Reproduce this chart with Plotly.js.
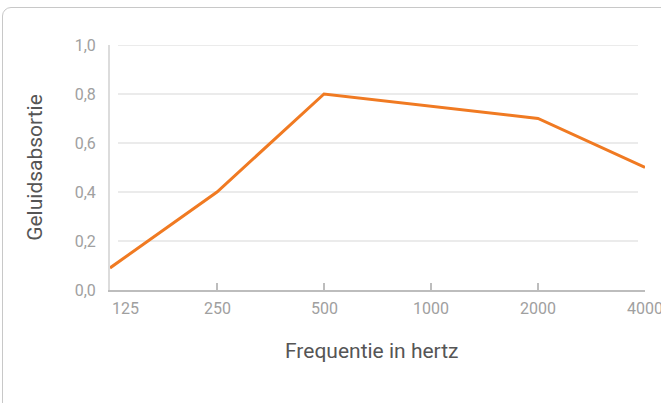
<!DOCTYPE html>
<html>
<head>
<meta charset="utf-8">
<script src="https://cdn.plot.ly/plotly-3.0.1.min.js"></script>
<style>
  html, body { margin: 0; padding: 0; background: #fff; overflow: hidden; }
  #card { position: absolute; left: 2px; top: 7px; width: 720px; height: 460px;
          border: 1px solid #c8c8c8; border-radius: 9px; box-sizing: border-box; }
  #chart { position: absolute; left: 0; top: 0; width: 661px; height: 403px; }
</style>
</head>
<body>
<div id="card"></div>
<div id="chart"></div>
<script>
const frequencies = ["125", "250", "500", "1000", "2000", "4000"];
const absorption = [0.09, 0.40, 0.80, 0.75, 0.70, 0.50];
const yTicks = [0, 0.2, 0.4, 0.6, 0.8, 1.0];
const xTitle = "Frequentie in hertz";
const yTitle = "Geluidsabsortie";

const trace = {
  x: frequencies,
  y: absorption,
  type: "scatter",
  mode: "lines",
  line: { color: "#f07a22", width: 3 },
  hoverinfo: "skip"
};

const gridShapes = yTicks.filter(v => v > 0).map(v => ({
  type: "line", xref: "paper", yref: "y",
  x0: 0.015, x1: 0.987, y0: v, y1: v,
  line: { color: "#ebebeb", width: 2 }, layer: "below"
}));

const xLabels = frequencies.map((f, i) => ({
  text: f, xref: "x", yref: "paper", x: i, y: 0, yshift: -18,
  xanchor: i === 0 ? "left" : "center", yanchor: "middle",
  showarrow: false, font: { family: "Roboto", size: 16, color: "#a0a0a0" }
}));

const layout = {
  width: 661, height: 403,
  margin: { l: 110, r: 16, t: 45, b: 113 },
  paper_bgcolor: "rgba(0,0,0,0)",
  plot_bgcolor: "rgba(0,0,0,0)",
  separators: ",.",
  showlegend: false,
  font: { family: "Roboto", color: "#a0a0a0" },
  xaxis: {
    type: "category",
    range: [0, frequencies.length - 1],
    showgrid: false, zeroline: false,
    showline: true, linecolor: "#bdbdbd", linewidth: 2,
    ticks: "inside", ticklen: 7, tickwidth: 2, tickcolor: "#bdbdbd",
    showticklabels: false,
    fixedrange: true
  },
  yaxis: {
    range: [0, 1],
    tickvals: yTicks,
    tickformat: ".1f",
    showgrid: false, zeroline: false,
    showline: true, linecolor: "#dcdcdc", linewidth: 2,
    ticks: "", ticklabelstandoff: 9,
    tickfont: { family: "Roboto", size: 16, color: "#a0a0a0" },
    title: { text: yTitle, standoff: 26, font: { family: "Roboto", size: 21, color: "#555" } },
    fixedrange: true
  },
  shapes: gridShapes,
  annotations: xLabels.concat([{
    text: xTitle, xref: "paper", yref: "paper", x: 0.49, y: 0, yshift: -61,
    xanchor: "center", yanchor: "middle", showarrow: false,
    font: { family: "Roboto", size: 21, color: "#555" }
  }])
};

Plotly.newPlot("chart", [trace], layout, { displayModeBar: false, staticPlot: true });
</script>
</body>
</html>
